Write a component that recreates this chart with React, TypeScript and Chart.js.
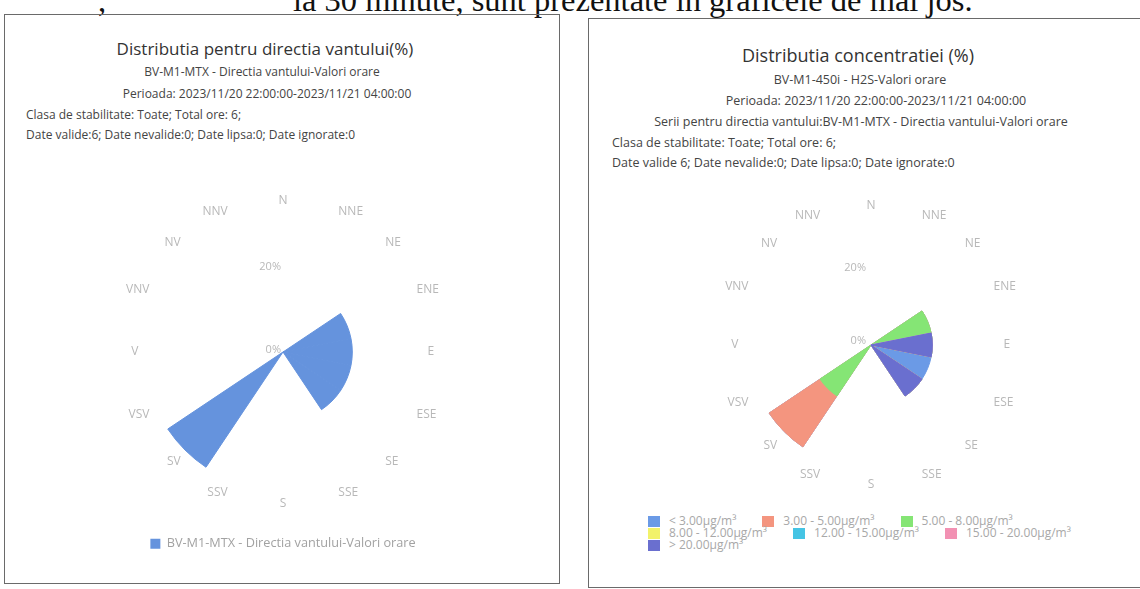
import React, { useEffect, useRef } from 'react';
import { Chart, registerables } from 'chart.js';

Chart.register(...registerables);

// ---------- data ----------
const DIRECTIONS = ['N', 'NNE', 'NE', 'ENE', 'E', 'ESE', 'SE', 'SSE', 'S', 'SSV', 'SV', 'VSV', 'V', 'VNV', 'NV', 'NNV'];

const WIND_SERIES_NAME = 'BV-M1-MTX - Directia vantului-Valori orare';
const WIND_FREQ = [0, 0, 0, 16.67, 16.67, 16.67, 16.67, 0, 0, 0, 33.33, 0, 0, 0, 0, 0];

const CONC_CLASSES = [
  '< 3.00µg/m³',
  '3.00 - 5.00µg/m³',
  '5.00 - 8.00µg/m³',
  '8.00 - 12.00µg/m³',
  '12.00 - 15.00µg/m³',
  '15.00 - 20.00µg/m³',
  '> 20.00µg/m³',
];
const CONC_LT3 = [0, 0, 0, 0, 0, 16.67, 0, 0, 0, 0, 0, 0, 0, 0, 0, 0];
const CONC_3_5 = [0, 0, 0, 0, 0, 0, 0, 0, 0, 0, 16.67, 0, 0, 0, 0, 0];
const CONC_5_8 = [0, 0, 0, 16.67, 0, 0, 0, 0, 0, 0, 16.67, 0, 0, 0, 0, 0];
const CONC_8_12 = [0, 0, 0, 0, 0, 0, 0, 0, 0, 0, 0, 0, 0, 0, 0, 0];
const CONC_12_15 = [0, 0, 0, 0, 0, 0, 0, 0, 0, 0, 0, 0, 0, 0, 0, 0];
const CONC_15_20 = [0, 0, 0, 0, 0, 0, 0, 0, 0, 0, 0, 0, 0, 0, 0, 0];
const CONC_GT20 = [0, 0, 0, 0, 16.67, 0, 16.67, 0, 0, 0, 0, 0, 0, 0, 0, 0];
const CONC_SERIES = [CONC_LT3, CONC_3_5, CONC_5_8, CONC_8_12, CONC_12_15, CONC_15_20, CONC_GT20];

const RADIAL_TICKS = [0, 20];

// ---------- styles ----------
const WIND_COLOR = '#6593dd';
const CONC_COLORS = ['#6b9ae6', '#f4957f', '#85e575', '#f2f26a', '#45c4e4', '#f291b3', '#6a6fcf'];
const LABEL_GRAY = '#b8b8b8';
const FONT = '"Open Sans", "DejaVu Sans", sans-serif';

const radialTickLabels = {
  id: 'radialTickLabels',
  afterDatasetsDraw(chart: any, _args: any, opts: any) {
    const s = chart.scales.r;
    const ctx = chart.ctx;
    ctx.save();
    ctx.font = `${opts.size}px "Open Sans"`;
    ctx.fillStyle = opts.color;
    ctx.textAlign = 'right';
    ctx.textBaseline = 'middle';
    RADIAL_TICKS.forEach((v) => {
      ctx.fillText(`${v}%`, s.xCenter - opts.dx, s.yCenter - s.getDistanceFromCenterForValue(v) - opts.dy);
    });
    ctx.restore();
  },
};

function radialScale(max: number, pad: number, size: number) {
  return {
    r: {
      min: 0,
      max,
      startAngle: -11.25,
      grid: { display: false },
      angleLines: { display: false },
      ticks: { display: false },
      pointLabels: {
        display: true,
        centerPointLabels: true,
        padding: pad,
        color: LABEL_GRAY,
        font: { family: 'Open Sans', size },
      },
    },
  };
}

const seamWidth = (c: any) => (c.raw > 0 ? 1 : 0);

function WindRose() {
  const ref = useRef<HTMLCanvasElement>(null);
  useEffect(() => {
    const chart = new Chart(ref.current as HTMLCanvasElement, {
      type: 'polarArea',
      data: {
        labels: DIRECTIONS,
        datasets: [
          {
            label: WIND_SERIES_NAME,
            data: WIND_FREQ,
            backgroundColor: WIND_COLOR,
            borderColor: WIND_COLOR,
            borderWidth: seamWidth,
          },
        ],
      },
      options: {
        responsive: false,
        animation: false,
        events: [],
        layout: { padding: 0 },
        plugins: {
          legend: {
            display: true,
            position: 'bottom',
            labels: {
              boxWidth: 10,
              boxHeight: 10,
              padding: 25,
              color: '#a2a2a2',
              font: { family: 'Open Sans', size: 12.7 },
              generateLabels: (c: any) =>
                c.data.datasets.map((ds: any, i: number) => ({
                  text: ds.label,
                  fillStyle: ds.backgroundColor,
                  strokeStyle: ds.backgroundColor,
                  fontColor: '#a2a2a2',
                  lineWidth: 0,
                  hidden: false,
                  datasetIndex: i,
                })),
            },
          },
          tooltip: { enabled: false },
          radialTickLabels: { size: 11, color: LABEL_GRAY, dx: 2, dy: 2 },
        } as any,
        scales: radialScale(Math.max(...WIND_FREQ), 6, 12) as any,
      },
      plugins: [radialTickLabels],
    });
    return () => chart.destroy();
  }, []);
  return <canvas ref={ref} width={500} height={367} style={{ position: 'absolute', left: 33, top: 193, width: 500, height: 367 }} />;
}

function ConcRose() {
  const ref = useRef<HTMLCanvasElement>(null);
  useEffect(() => {
    // stacked: first class is outermost, so each ring's outer radius is the sum of itself and the classes after it
    const stacked = CONC_SERIES.map((_, i) =>
      DIRECTIONS.map((__, d) => CONC_SERIES.slice(i).reduce((acc, s) => acc + s[d], 0))
    );
    const max = Math.max(...stacked[0]);
    const chart = new Chart(ref.current as HTMLCanvasElement, {
      type: 'polarArea',
      data: {
        labels: DIRECTIONS,
        datasets: CONC_CLASSES.map((name, i) => ({
          label: name,
          data: stacked[i],
          backgroundColor: CONC_COLORS[i],
          borderColor: CONC_COLORS[i],
          borderWidth: seamWidth,
          order: CONC_CLASSES.length - i,
        })),
      },
      options: {
        responsive: false,
        animation: false,
        events: [],
        layout: { padding: 0 },
        plugins: {
          legend: { display: false },
          tooltip: { enabled: false },
          radialTickLabels: { size: 11, color: LABEL_GRAY, dx: 5, dy: 4 },
        } as any,
        scales: radialScale(max, 10, 12) as any,
      },
      plugins: [radialTickLabels],
    });
    return () => chart.destroy();
  }, []);
  return <canvas ref={ref} width={500} height={294} style={{ position: 'absolute', left: 621, top: 198, width: 500, height: 294 }} />;
}

function T({ x, y, size, color, children, align = 'center', weight = 400 }: any) {
  return (
    <div
      style={{
        position: 'absolute',
        left: x,
        top: y,
        transform: align === 'center' ? 'translate(-50%, -50%)' : 'translate(0, -50%)',
        whiteSpace: 'nowrap',
        fontFamily: FONT,
        fontSize: size,
        fontWeight: weight,
        color,
        lineHeight: 1.2,
      }}
    >
      {children}
    </div>
  );
}

const docText: React.CSSProperties = {
  position: 'absolute',
  top: -16,
  fontFamily: '"Liberation Serif", serif',
  fontSize: 32.5,
  lineHeight: '32px',
  color: '#111',
  whiteSpace: 'nowrap',
};

export default function App() {
  return (
    <div
      style={{
        position: 'absolute',
        left: 0,
        top: 0,
        width: 1140,
        height: 589,
        overflow: 'hidden',
        background: '#fff',
      }}
    >
      {/* cut-off document text line */}
      <div style={{ ...docText, left: 98 }}>,</div>
      <div style={{ ...docText, left: 293 }}>la 30 minute, sunt prezentate in graficele de mai jos.</div>

      {/* left panel */}
      <div style={{ position: 'absolute', left: 4, top: 14, width: 554, height: 568, border: '1.5px solid #6a6a6a' }} />
      <T x={265} y={49} size={17} color="#333">Distributia pentru directia vantului(%)</T>
      <T x={262} y={72} size={12} color="#444">BV-M1-MTX - Directia vantului-Valori orare</T>
      <T x={267} y={94} size={12} color="#444">Perioada: 2023/11/20 22:00:00-2023/11/21 04:00:00</T>
      <T x={26} y={115} size={12} color="#444" align="left">Clasa de stabilitate: Toate; Total ore: 6;</T>
      <T x={26} y={135} size={12} color="#444" align="left">Date valide:6; Date nevalide:0; Date lipsa:0; Date ignorate:0</T>
      <WindRose />

      {/* right panel */}
      <div style={{ position: 'absolute', left: 588, top: 18, width: 600, height: 568, border: '1.5px solid #6a6a6a' }} />
      <T x={858} y={56} size={18} color="#333">Distributia concentratiei (%)</T>
      <T x={860} y={79} size={12.5} color="#444">BV-M1-450i - H2S-Valori orare</T>
      <T x={876} y={100} size={12.5} color="#444">Perioada: 2023/11/20 22:00:00-2023/11/21 04:00:00</T>
      <T x={861} y={121} size={12.5} color="#444">Serii pentru directia vantului:BV-M1-MTX - Directia vantului-Valori orare</T>
      <T x={612} y={142} size={12.5} color="#444" align="left">Clasa de stabilitate: Toate; Total ore: 6;</T>
      <T x={612} y={162} size={12.5} color="#444" align="left">Date valide 6; Date nevalide:0; Date lipsa:0; Date ignorate:0</T>
      <ConcRose />

      {/* legend of concentration classes */}
      <div style={{ position: 'absolute', left: 648, top: 515, width: 470, display: 'flex', flexWrap: 'wrap', fontFamily: FONT, fontSize: 12, lineHeight: '12px', color: '#a8a8a8' }}>
        {CONC_CLASSES.map((name, i) => (
          <div key={name} style={{ display: 'flex', alignItems: 'center', marginRight: 26, whiteSpace: 'nowrap' }}>
            <span style={{ display: 'inline-block', width: 12, height: 11, background: CONC_COLORS[i], marginRight: 9 }} />
            <span>{name}</span>
          </div>
        ))}
      </div>
    </div>
  );
}
